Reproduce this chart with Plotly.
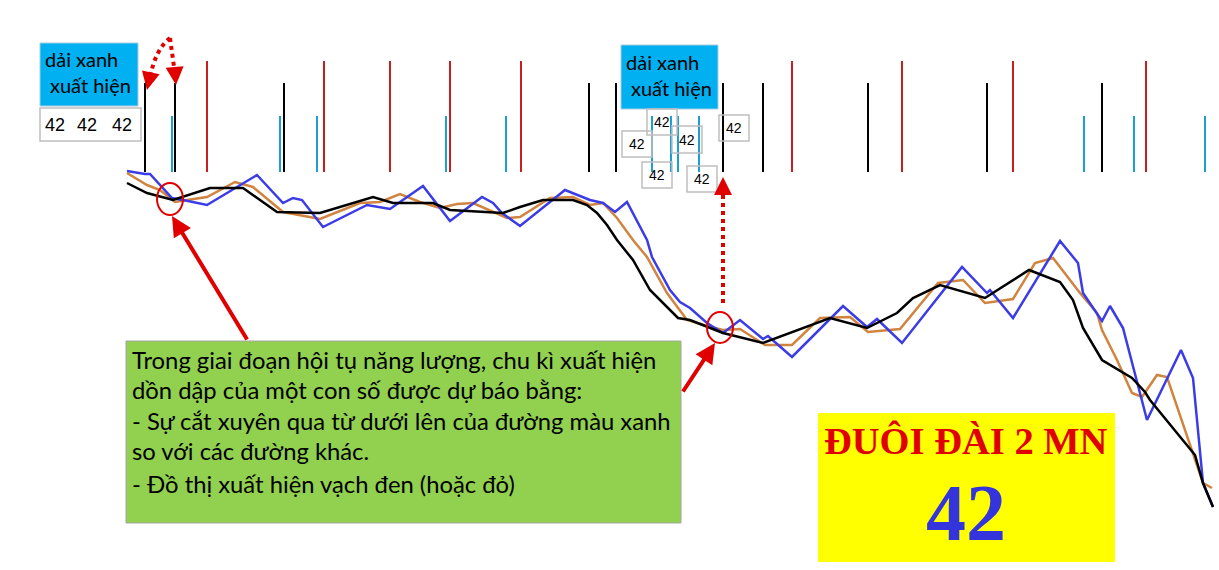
import plotly.graph_objects as go

W, H = 1219, 570

# ---------------- data (time position t, value v) ----------------
blue_t = [0, 18, 23, 33, 45, 56, 80, 130, 156, 166, 175, 196, 240, 263, 296, 323, 355, 366, 375, 393,
          438, 463, 476, 488, 500, 520, 525, 543, 553, 563, 580, 596, 613, 636, 641, 665, 716, 740, 750,
          775, 835, 860, 863, 886, 933, 951, 956, 975, 983, 996, 1020, 1054, 1066, 1076, 1086]
blue_v = [349, 346, 346, 335, 322, 320, 315, 345, 317, 322, 320, 293, 315, 311, 334, 299, 323, 317, 307, 294,
          330, 320, 317, 308, 318, 280, 263, 230, 218, 212, 197, 187, 200, 181, 184, 163, 214, 193, 201,
          177, 253, 227, 230, 202, 279, 257, 227, 199, 214, 192, 100, 170, 142, 37, 13]

orange_t = [0, 20, 33, 48, 60, 80, 108, 126, 156, 193, 233, 253, 273, 293, 313, 330, 346, 380, 393, 423,
            446, 463, 476, 490, 506, 520, 540, 560, 580, 596, 613, 638, 665, 693, 723, 741, 773, 811, 836,
            858, 886, 908, 926, 953, 970, 975, 990, 1005, 1015, 1030, 1040, 1066, 1076, 1085]
orange_v = [347, 335, 330, 318, 320, 323, 338, 333, 308, 301, 317, 318, 326, 318, 312, 316, 317, 302, 303, 322,
            323, 315, 317, 302, 280, 263, 227, 200, 194, 190, 191, 175, 175, 202, 203, 188, 191, 237, 240,
            217, 221, 257, 262, 227, 207, 190, 160, 127, 123, 145, 143, 67, 37, 32]

black_t = [0, 20, 46, 83, 116, 150, 193, 246, 266, 306, 323, 376, 393, 416, 446, 460, 470, 480, 490, 506,
           523, 551, 563, 580, 596, 636, 670, 703, 740, 770, 786, 813, 858, 885, 902, 933, 946, 956, 975,
           1005, 1018, 1023, 1068, 1076, 1086]
black_v = [337, 327, 320, 332, 332, 308, 307, 323, 317, 317, 310, 307, 313, 320, 320, 315, 307, 295, 280, 260,
           230, 202, 200, 193, 187, 177, 190, 202, 192, 207, 222, 235, 222, 239, 250, 238, 220, 192, 160,
           142, 128, 120, 65, 37, 13]

# event marks (vertical strokes) on the top band
black_marks_t = [18, 48, 157, 462, 489, 596, 636, 741, 860, 975]
red_marks_t = [80, 197, 263, 323, 394, 665, 775, 886, 1019]
cyan_marks_t = [45, 153, 190, 319, 379, 525, 544, 551, 572, 957, 1007, 1078]
mark_base = 348
black_mark_h = 89
red_mark_h = 111
cyan_mark_h = 56

note_lines = [
    "Trong giai đoạn hội tụ năng lượng, chu kì xuất hiện",
    "dồn dập của một con số được dự báo bằng:",
    "- Sự cắt xuyên qua từ dưới lên của đường màu xanh",
    "so với các đường khác.",
    "- Đồ thị xuất hiện vạch đen (hoặc đỏ)",
]
title_text = "ĐUÔI ĐÀI 2 MN"
number_text = "42"

# ---------------- figure ----------------
fig = go.Figure()

for xs, h, col in [(black_marks_t, black_mark_h, "#000000"),
                   (red_marks_t, red_mark_h, "#C81E1E"),
                   (cyan_marks_t, cyan_mark_h, "#1E9FD2")]:
    fig.add_trace(go.Bar(x=xs, y=[h] * len(xs), base=mark_base, width=2,
                         marker=dict(color=col, line=dict(width=0)), hoverinfo="skip"))

fig.add_trace(go.Scatter(x=orange_t, y=orange_v, mode="lines",
                         line=dict(color="#D0843F", width=2.5)))
fig.add_trace(go.Scatter(x=blue_t, y=blue_v, mode="lines",
                         line=dict(color="#3C3CE6", width=2.5)))
fig.add_trace(go.Scatter(x=black_t, y=black_v, mode="lines",
                         line=dict(color="#000000", width=2.5)))


def px(x):
    return x / W


def py(y):
    return 1 - y / H


shapes = []


def rect(x0, y0, x1, y1, fill=None, line="#BFBFBF", lw=1.5, layer="above"):
    shapes.append(dict(type="rect", xref="paper", yref="paper",
                       x0=px(x0), x1=px(x1), y0=py(y1), y1=py(y0),
                       fillcolor=fill if fill else "rgba(0,0,0,0)",
                       line=dict(color=line, width=lw) if lw else dict(width=0),
                       layer=layer))


def circ(x0, y0, x1, y1):
    shapes.append(dict(type="circle", xref="paper", yref="paper",
                       x0=px(x0), x1=px(x1), y0=py(y1), y1=py(y0),
                       line=dict(color="#E00000", width=2)))


def dotted(path_pts, quad=None):
    (xa, ya), (xb, yb) = path_pts
    if quad:
        d = f"M {px(xa)},{py(ya)} Q {px(quad[0])},{py(quad[1])} {px(xb)},{py(yb)}"
    else:
        d = f"M {px(xa)},{py(ya)} L {px(xb)},{py(yb)}"
    shapes.append(dict(type="path", xref="paper", yref="paper", path=d,
                       line=dict(color="#E00000", width=4, dash="4px,4px")))


# boxes
rect(40, 43, 138, 106, fill="#00B0F0", line="#A9CCE0", lw=1)
rect(40, 108, 141, 141, fill="#FFFFFF", line="#BFBFBF", lw=1.5)
rect(621, 45, 718, 109, fill="#00B0F0", line="#A9CCE0", lw=1)
small_boxes = [(647, 109, 677, 135), (622, 131, 652, 157), (672, 126, 702, 153),
               (719, 115, 749, 141), (642, 162, 672, 188), (687, 166, 717, 192)]
for b in small_boxes:
    rect(*b, fill=None, line="#BFBFBF", lw=1.5)
rect(126, 341, 681, 523, fill="#92D050", line="#A6A6A6", lw=1, layer="below")
rect(818, 413, 1115, 562, fill="#FFFF00", lw=0, layer="below")

circ(157, 183, 183, 215)
circ(707, 312, 733, 343)

dotted([(170, 38), (150, 78)], quad=(155, 50))
dotted([(170, 38), (175, 74)])
dotted([(723, 303), (723, 190)])

annotations = []


def text(x, y, s, size, color="#000000", family="Lato", anchor="left", bold=False):
    if bold:
        s = f"<b>{s}</b>"
    annotations.append(dict(x=px(x), y=py(y), xref="paper", yref="paper", text=s,
                            showarrow=False, xanchor=anchor, yanchor="middle",
                            font=dict(size=size, color=color, family=family)))


def arrow(tip, tail, width, size):
    annotations.append(dict(x=px(tip[0]), y=py(tip[1]), xref="paper", yref="paper",
                            ax=tail[0] - tip[0], ay=tail[1] - tip[1], text="",
                            showarrow=True, arrowhead=2, arrowsize=size,
                            arrowwidth=width, arrowcolor="#E00000", standoff=0))


text(43, 59, "dải xanh", 20)
text(48, 85, "xuất hiện", 20)
for xx in (55, 87, 122):
    text(xx, 125, "42", 18, anchor="center", family="Liberation Sans")
text(624, 62, "dải xanh", 20)
text(629, 88, "xuất hiện", 20)
for (x0, y0, x1, y1) in small_boxes:
    text((x0 + x1) / 2, (y0 + y1) / 2, "42", 14, anchor="center", family="Liberation Sans")

for i, line in enumerate(note_lines):
    text(130, [360, 390, 421, 451, 484][i], line, 23.8)

text(966, 441, title_text, 38.5, color="#E00000", family="Liberation Serif", anchor="center", bold=True)
text(966, 513, number_text, 80, color="#3434DC", family="Liberation Serif", anchor="center", bold=True)

arrow((172, 216), (248, 341), 4, 1)
arrow((715, 343), (682, 393), 4, 1)
arrow((147, 90), (150, 76), 3, 1.2)
arrow((176, 85), (175, 72), 3, 1.2)
arrow((723, 177), (723, 192), 3, 1.2)

fig.update_layout(
    width=W, height=H, margin=dict(l=0, r=0, t=0, b=0),
    paper_bgcolor="white", plot_bgcolor="white",
    showlegend=False, barmode="overlay",
    xaxis=dict(range=[-127, 1092], visible=False, fixedrange=True),
    yaxis=dict(range=[-50, 520], visible=False, fixedrange=True),
    shapes=shapes, annotations=annotations,
)

fig.write_html("out.html", config={"displayModeBar": False},
               post_script="document.body.style.margin='0';document.body.style.padding='0';")
